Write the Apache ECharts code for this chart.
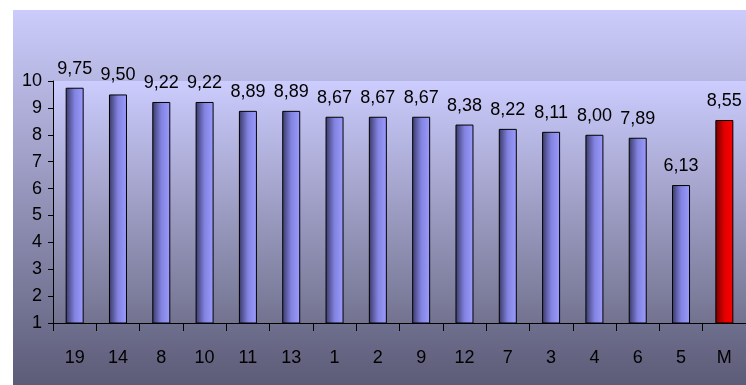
<!DOCTYPE html>
<html>
<head>
<meta charset="utf-8">
<script src="https://cdn.jsdelivr.net/npm/echarts@6/dist/echarts.min.js"></script>
<style>
  html, body { margin: 0; padding: 0; background: #ffffff; }
  #chart { width: 746px; height: 385px; }
</style>
</head>
<body>
<div id="chart"></div>
<script>
// categories and scores
const categories = ['19', '14', '8', '10', '11', '13', '1', '2', '9', '12', '7', '3', '4', '6', '5', 'M'];
const scores = [9.75, 9.50, 9.22, 9.22, 8.89, 8.89, 8.67, 8.67, 8.67, 8.38, 8.22, 8.11, 8.00, 7.89, 6.13, 8.55];
const highlighted = ['M'];
const yTicks = [1, 10, 1]; // min, max, interval

const FONT = "'Liberation Sans Narrow', 'Liberation Sans', Arial, sans-serif";

const chart = echarts.init(document.getElementById('chart'));

const blueBar = new echarts.graphic.LinearGradient(0, 0, 1, 0, [
  { offset: 0, color: '#383866' },
  { offset: 0.5, color: '#8282e0' },
  { offset: 1, color: '#9c9cff' }
]);
const redBar = new echarts.graphic.LinearGradient(0, 0, 1, 0, [
  { offset: 0, color: '#700000' },
  { offset: 0.5, color: '#e00000' },
  { offset: 1, color: '#ff0000' }
]);

const option = {
  backgroundColor: '#ffffff',
  animation: false,
  graphic: [
    {
      type: 'rect',
      z: -100,
      silent: true,
      shape: { x: 13, y: 10, width: 733, height: 375 },
      style: {
        fill: new echarts.graphic.LinearGradient(0, 0, 0, 1, [
          { offset: 0, color: '#ccccfc' },
          { offset: 1, color: '#5c5c78' }
        ])
      }
    }
  ],
  grid: {
    left: 53,
    top: 81,
    width: 702,
    height: 242,
    show: true,
    borderWidth: 0,
    backgroundColor: new echarts.graphic.LinearGradient(0, 0, 0, 1, [
      { offset: 0, color: '#ccccfe' },
      { offset: 1, color: '#737390' }
    ])
  },
  xAxis: {
    type: 'category',
    data: categories,
    axisLine: { lineStyle: { color: '#000', width: 1 } },
    axisTick: { show: true, length: 8, lineStyle: { color: '#000' } },
    axisLabel: { color: '#000', fontSize: 18, fontFamily: FONT, margin: 26 },
    splitLine: { show: false }
  },
  yAxis: {
    type: 'value',
    min: yTicks[0],
    max: yTicks[1],
    interval: yTicks[2],
    axisLine: { show: true, lineStyle: { color: '#000', width: 1 } },
    axisTick: { show: true, length: 5, lineStyle: { color: '#000' } },
    axisLabel: { color: '#000', fontSize: 18, fontFamily: FONT, margin: 11 },
    splitLine: { show: false }
  },
  series: [
    {
      type: 'bar',
      barWidth: 18,
      data: scores.map((v, i) => ({
        value: v,
        itemStyle: {
          color: highlighted.includes(categories[i]) ? redBar : blueBar,
          borderColor: '#000',
          borderWidth: 1
        }
      })),
      label: {
        show: true,
        position: 'top',
        distance: 10,
        color: '#000',
        fontSize: 18,
        fontFamily: FONT,
        formatter: p => p.value.toFixed(2).replace('.', ',')
      }
    }
  ]
};

chart.setOption(option);
</script>
</body>
</html>
